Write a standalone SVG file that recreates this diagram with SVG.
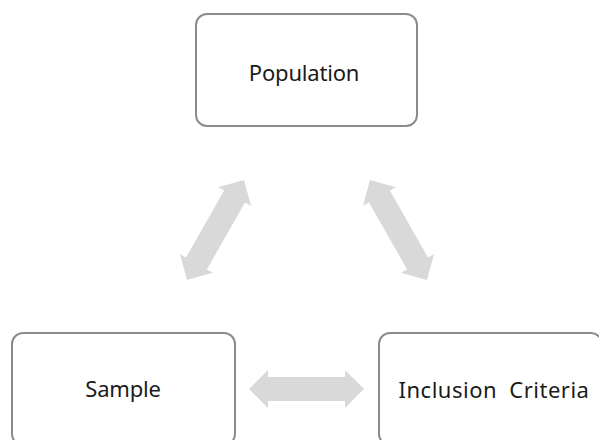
<svg xmlns="http://www.w3.org/2000/svg" width="599" height="440" viewBox="0 0 599 440">
<defs>
<style>
.box{fill:#ffffff;stroke:#8c8c8c;stroke-width:2}
.lbl{font-family:"Noto Sans","Open Sans",sans-serif;font-size:22px;fill:#1a1a1a;text-anchor:middle;letter-spacing:-0.2px}
.arr{fill:#d9d9d9}
</style>
<path id="dbl" d="M-57.5,0 L-38.5,-19 L-38.5,-12 L38.5,-12 L38.5,-19 L57.5,0 L38.5,19 L38.5,12 L-38.5,12 L-38.5,19 Z"/>
</defs>
<rect width="599" height="440" fill="#ffffff"/>
<g id="connectors">
<use href="#dbl" class="arr" transform="translate(215.5,230) rotate(-60.3)"/>
<use href="#dbl" class="arr" transform="translate(398.5,230) rotate(60.3)"/>
<use href="#dbl" class="arr" transform="translate(306.5,389)"/>
</g>
<g id="population">
<rect class="box" x="196" y="14" width="221" height="112" rx="11"/>
<text class="lbl" x="304" y="81">Population</text>
</g>
<g id="sample">
<rect class="box" x="12" y="333" width="223" height="112" rx="11"/>
<text class="lbl" x="123" y="397">Sample</text>
</g>
<g id="inclusion">
<rect class="box" x="379" y="333" width="223" height="112" rx="11"/>
<text class="lbl" x="494" y="398" style="letter-spacing:0.5px;word-spacing:6px">Inclusion Criteria</text>
</g>
</svg>
